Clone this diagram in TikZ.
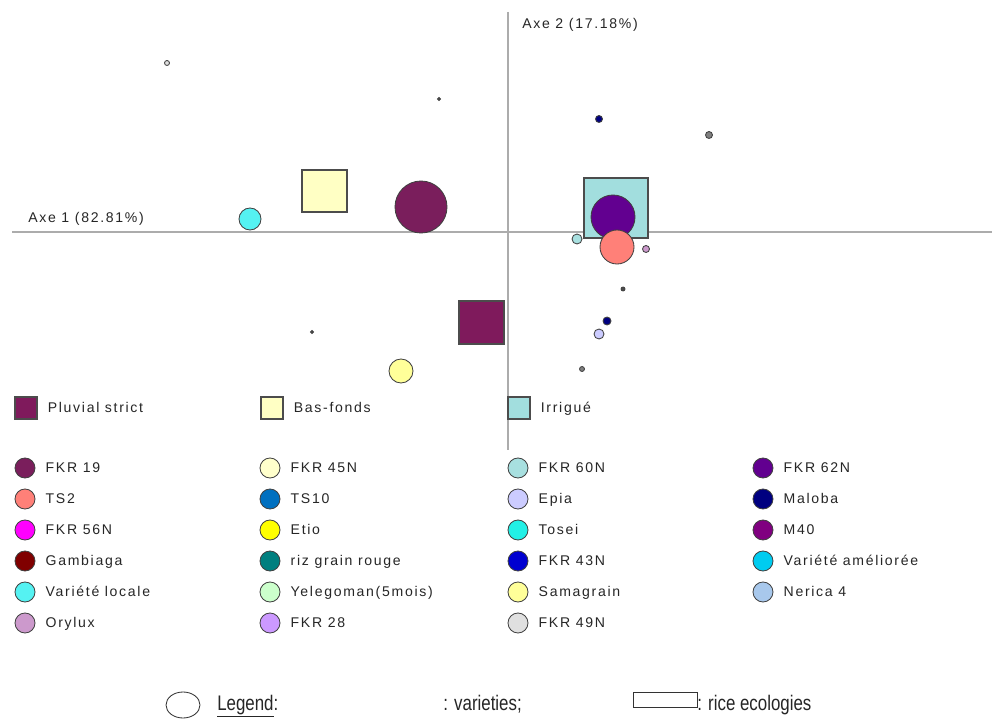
\documentclass[tikz,border=0pt]{standalone}
\usepackage{fontspec}
\setmainfont{Liberation Sans}
\newfontfamily\chartfont[LetterSpace=12]{Liberation Sans}
\newfontfamily\keyfont[FakeStretch=0.8]{Liberation Sans}
\usepackage{tikz}
\usetikzlibrary{shapes.geometric, positioning}
\definecolor{pluvial}{HTML}{7F1A5C}
\definecolor{basfonds}{HTML}{FFFFC4}
\definecolor{irrigue}{HTML}{A2DEDE}
\definecolor{cfkrxix}{HTML}{7A1E5C}
\definecolor{cts}{HTML}{FF8078}
\definecolor{cfkrlvi}{HTML}{FF00FF}
\definecolor{cgamb}{HTML}{800000}
\definecolor{clocale}{HTML}{55F2F2}
\definecolor{corylux}{HTML}{CC99CC}
\definecolor{cfkrxlv}{HTML}{FFFFCC}
\definecolor{ctsx}{HTML}{0070C0}
\definecolor{cetio}{HTML}{FFFF00}
\definecolor{crouge}{HTML}{007F7F}
\definecolor{cyele}{HTML}{CCFFCC}
\definecolor{cfkrxxviii}{HTML}{CC99FF}
\definecolor{cfkrlx}{HTML}{A8E0E0}
\definecolor{cepia}{HTML}{CCCCFF}
\definecolor{ctosei}{HTML}{22F0E6}
\definecolor{cfkrxliii}{HTML}{0000D0}
\definecolor{csama}{HTML}{FFFF99}
\definecolor{cfkrxlix}{HTML}{E0E0E0}
\definecolor{cfkrlxii}{HTML}{620090}
\definecolor{cmaloba}{HTML}{000080}
\definecolor{cmxl}{HTML}{800080}
\definecolor{camel}{HTML}{00CCF0}
\definecolor{cnerica}{HTML}{A8C8EC}

\begin{document}
\begin{tikzpicture}[
  x=0.025cm, y=-0.025cm,
  axis/.style={draw=gray!65, line width=1.3pt},
  variety/.style={circle, draw=black!75, line width=0.6pt, inner sep=0pt, minimum size=#1*0.05cm},
  ecology/.style={draw=black!70, line width=0.8pt, inner sep=0pt},
  keydot/.style={circle, draw=black!75, line width=0.6pt, inner sep=0pt, minimum size=0.5cm},
  keybox/.style={ecology, minimum size=0.55cm},
  lbl/.style={inner sep=0pt, text height=1.5ex, text depth=0.3ex, font=\chartfont\fontsize{10}{12}\selectfont, text=black!85},
  bigtext/.style={inner sep=0pt, text height=1.5ex, text depth=0.4ex, font=\keyfont\fontsize{15}{17}\selectfont, text=black!85}
]
  \useasboundingbox[fill=white] (0,0) rectangle (992,720);

  % Axes
  \coordinate (xl) at (12,232);
  \coordinate (xr) at (992,232);
  \coordinate (yt) at (508,12);
  \coordinate (yb) at (508,450);
  \draw[axis] (xl) -- (xr);
  \draw[axis] (yt) -- (yb);
  \node[lbl, anchor=west] (ax1) at (28,218) {Axe 1 (82.81\%)};
  \node[lbl, anchor=west] (ax2) at (522,24) {Axe 2 (17.18\%)};

  % Rice ecologies
  \node[ecology, fill=basfonds, minimum width=1.125cm, minimum height=1.05cm] (bf) at (324.5,191) {};
  \node[ecology, fill=irrigue, minimum width=1.6cm, minimum height=1.5cm] (ir) at (616,208) {};
  \node[ecology, fill=pluvial, minimum width=1.125cm, minimum height=1.075cm] (pl) at (481.5,322.5) {};

  % Varieties
  \node[variety=2.5, fill=cfkrxlix] (p1) at (167,63) {};
  \node[variety=1.5, fill=black!70] (p2) at (439,99) {};
  \node[variety=3.5, fill=cmaloba] (p3) at (599,119) {};
  \node[variety=3.5, fill=gray] (p4) at (709,135) {};
  \node[variety=11, fill=clocale] (p5) at (250,219) {};
  \node[variety=26, fill=cfkrxix] (p6) at (421,207) {};
  \node[variety=22, fill=cfkrlxii] (p7) at (613,217) {};
  \node[variety=17, fill=cts] (p8) at (617,247) {};
  \node[variety=5, fill=cfkrlx] (p9) at (577,239) {};
  \node[variety=3.5, fill=corylux] (p10) at (646,249) {};
  \node[variety=2, fill=black!70] (p11) at (623,289) {};
  \node[variety=4, fill=cmaloba] (p12) at (607,321) {};
  \node[variety=5, fill=cepia] (p13) at (599,334) {};
  \node[variety=2.5, fill=gray] (p14) at (582,369) {};
  \node[variety=12, fill=csama] (p15) at (401,371) {};
  \node[variety=1.5, fill=black!70] (p16) at (312,332) {};

  % Ecology key
  \node[keybox, fill=pluvial] (kpl) at (26,408) {};
  \node[lbl, right=0.25cm of kpl] (tpl) {Pluvial strict};
  \node[keybox, fill=basfonds] (kbf) at (272,408) {};
  \node[lbl, right=0.25cm of kbf] (tbf) {Bas-fonds};
  \node[keybox, fill=irrigue] (kir) at (519,408) {};
  \node[lbl, right=0.25cm of kir] (tir) {Irrigué};

  % Variety key, column 1
  \node[keydot, fill=cfkrxix] (k1) at (25,468) {};
  \node[lbl, right=0.25cm of k1] (t1) {FKR 19};
  \node[keydot, fill=cts] (k2) at (25,499) {};
  \node[lbl, right=0.25cm of k2] (t2) {TS2};
  \node[keydot, fill=cfkrlvi] (k3) at (25,530) {};
  \node[lbl, right=0.25cm of k3] (t3) {FKR 56N};
  \node[keydot, fill=cgamb] (k4) at (25,561) {};
  \node[lbl, right=0.25cm of k4] (t4) {Gambiaga};
  \node[keydot, fill=clocale] (k5) at (25,592) {};
  \node[lbl, right=0.25cm of k5] (t5) {Variété locale};
  \node[keydot, fill=corylux] (k6) at (25,623) {};
  \node[lbl, right=0.25cm of k6] (t6) {Orylux};

  % Variety key, column 2
  \node[keydot, fill=cfkrxlv] (k7) at (270,468) {};
  \node[lbl, right=0.25cm of k7] (t7) {FKR 45N};
  \node[keydot, fill=ctsx] (k8) at (270,499) {};
  \node[lbl, right=0.25cm of k8] (t8) {TS10};
  \node[keydot, fill=cetio] (k9) at (270,530) {};
  \node[lbl, right=0.25cm of k9] (t9) {Etio};
  \node[keydot, fill=crouge] (k10) at (270,561) {};
  \node[lbl, right=0.25cm of k10] (t10) {riz grain rouge};
  \node[keydot, fill=cyele] (k11) at (270,592) {};
  \node[lbl, right=0.25cm of k11] (t11) {Yelegoman(5mois)};
  \node[keydot, fill=cfkrxxviii] (k12) at (270,623) {};
  \node[lbl, right=0.25cm of k12] (t12) {FKR 28};

  % Variety key, column 3
  \node[keydot, fill=cfkrlx] (k13) at (518,468) {};
  \node[lbl, right=0.25cm of k13] (t13) {FKR 60N};
  \node[keydot, fill=cepia] (k14) at (518,499) {};
  \node[lbl, right=0.25cm of k14] (t14) {Epia};
  \node[keydot, fill=ctosei] (k15) at (518,530) {};
  \node[lbl, right=0.25cm of k15] (t15) {Tosei};
  \node[keydot, fill=cfkrxliii] (k16) at (518,561) {};
  \node[lbl, right=0.25cm of k16] (t16) {FKR 43N};
  \node[keydot, fill=csama] (k17) at (518,592) {};
  \node[lbl, right=0.25cm of k17] (t17) {Samagrain};
  \node[keydot, fill=cfkrxlix] (k18) at (518,623) {};
  \node[lbl, right=0.25cm of k18] (t18) {FKR 49N};

  % Variety key, column 4
  \node[keydot, fill=cfkrlxii] (k19) at (763,468) {};
  \node[lbl, right=0.25cm of k19] (t19) {FKR 62N};
  \node[keydot, fill=cmaloba] (k20) at (763,499) {};
  \node[lbl, right=0.25cm of k20] (t20) {Maloba};
  \node[keydot, fill=cmxl] (k21) at (763,530) {};
  \node[lbl, right=0.25cm of k21] (t21) {M40};
  \node[keydot, fill=camel] (k22) at (763,561) {};
  \node[lbl, right=0.25cm of k22] (t22) {Variété améliorée};
  \node[keydot, fill=cnerica] (k23) at (763,592) {};
  \node[lbl, right=0.25cm of k23] (t23) {Nerica 4};

  % Legend
  \node[ellipse, draw=black!80, line width=0.6pt, minimum width=0.85cm, minimum height=0.65cm] (lgc) at (183,705) {};
  \node[bigtext, anchor=west] (lgt) at (217,706) {\underline{Legend}:};
  \node[bigtext, anchor=west] (lgv) at (443,706) {: varieties;};
  \node[draw=black!80, line width=0.6pt, minimum width=1.6cm, minimum height=0.375cm, inner sep=0pt] (lgr) at (665,699.5) {};
  \node[bigtext, anchor=west] (lge) at (697,706) {: rice ecologies};
\end{tikzpicture}
\end{document}
